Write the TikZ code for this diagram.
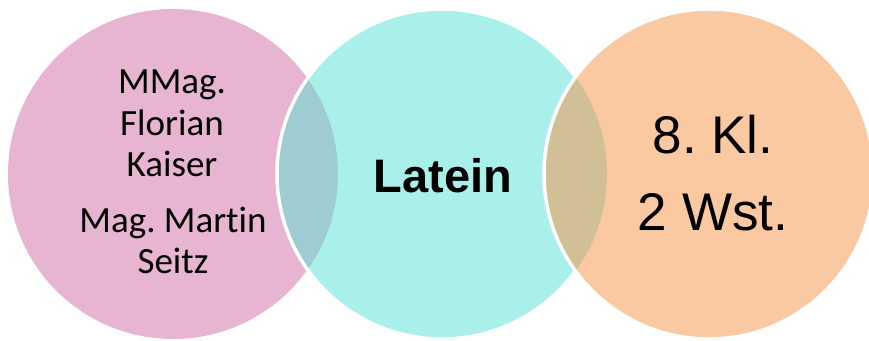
\documentclass[tikz,border=0pt]{standalone}
\usepackage{fontspec}
\setmainfont{Carlito}[Ligatures=NoCommon]
\newfontfamily\arialfont{Liberation Sans}
\definecolor{rosa}{HTML}{E7B5D1}
\definecolor{tuerkis}{HTML}{AAF0EA}
\definecolor{pfirsich}{HTML}{FAC8A1}
\definecolor{schnittL}{HTML}{9FCBD3}
\definecolor{schnittR}{HTML}{D1BF95}
\frenchspacing
\begin{document}
\begin{tikzpicture}[x=1pt, y=-1pt,
    ring/.style={draw=white, line width=3.5pt},
    zeile/.style={anchor=base, inner sep=0pt}]
    \useasboundingbox (0,0) rectangle (869,340);
    \clip (0,0) rectangle (869,340);

    % Kreise
    \fill[rosa] (173,174) circle (165pt);
    \fill[tuerkis] (442,174) circle (165pt);
    \begin{scope}
        \clip (442,174) circle (165pt);
        \fill[schnittL] (173,174) circle (165pt);
    \end{scope}
    \draw[ring] (442,174) circle (165pt);
    \fill[pfirsich] (709,174) circle (165pt);
    \begin{scope}
        \clip (709,174) circle (165pt);
        \fill[schnittR] (442,174) circle (165pt);
    \end{scope}
    \draw[ring] (709,174) circle (165pt);

    % Texte
    \begin{scope}[font=\fontsize{37}{44}\selectfont]
        \node[zeile] (mmag) at (172,93) {MMag.};
        \node[zeile] (florian) at (172,135) {Florian};
        \node[zeile] (kaiser) at (172,176) {Kaiser};
        \node[zeile] (martin) at (173,232) {Mag. Martin};
        \node[zeile] (seitz) at (173,273) {Seitz};
    \end{scope}
    \node[zeile, font=\arialfont\bfseries\fontsize{47}{56}\selectfont] (latein) at (443,192) {Latein};
    \begin{scope}[font=\arialfont\fontsize{53}{64}\selectfont]
        \node[zeile] (klasse) at (713,153) {8. Kl.};
        \node[zeile] (wst) at (713,230) {2 Wst.};
    \end{scope}
\end{tikzpicture}
\end{document}
